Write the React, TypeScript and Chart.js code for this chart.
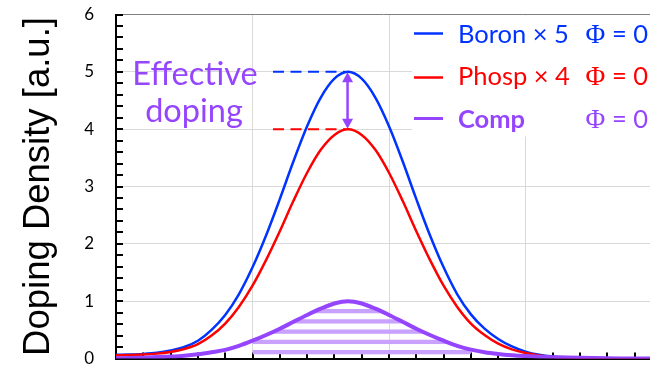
import React, { useEffect, useRef } from 'react';
import { Chart, registerables } from 'chart.js';

Chart.register(...registerables);

// Depth positions (arbitrary units, one minor x tick per unit)
const depthPositions = [
  0, 0.5, 1, 1.5, 2, 2.5, 3, 3.5, 4, 4.5, 5, 5.5, 6, 6.5, 7, 7.5, 8, 8.5, 9, 9.5,
  10, 10.5, 11, 11.5, 12, 12.5, 13, 13.5, 14, 14.5, 15, 15.5, 16, 16.5, 17, 17.5,
  18, 18.5, 19, 19.5, 20,
];

// Boron profile, scaled ×5
const boronValues = [
  0.065, 0.07, 0.08, 0.1, 0.14, 0.2, 0.31, 0.5, 0.76, 1.12, 1.59, 2.15, 2.78, 3.44,
  4.05, 4.55, 4.88, 5.0, 4.88, 4.55, 4.05, 3.44, 2.78, 2.15, 1.59, 1.12, 0.77, 0.52,
  0.34, 0.21, 0.12, 0.065, 0.035, 0.02, 0.012, 0.007, 0.004, 0.002, 0.001, 0, 0,
];

// Phosphorus profile, scaled ×4
const phospValues = [
  0.055, 0.06, 0.068, 0.085, 0.115, 0.165, 0.25, 0.4, 0.61, 0.9, 1.27, 1.72, 2.22,
  2.75, 3.24, 3.64, 3.9, 4.0, 3.9, 3.64, 3.24, 2.75, 2.22, 1.72, 1.27, 0.9, 0.61,
  0.41, 0.26, 0.16, 0.095, 0.052, 0.028, 0.016, 0.01, 0.006, 0.003, 0.002, 0.001, 0, 0,
];

// Compensated (effective) doping
const compValues = [
  0.004, 0.008, 0.015, 0.025, 0.035, 0.05, 0.075, 0.11, 0.15, 0.22, 0.31, 0.41, 0.52,
  0.64, 0.76, 0.87, 0.96, 1.0, 0.96, 0.87, 0.76, 0.64, 0.52, 0.41, 0.31, 0.22, 0.155,
  0.11, 0.08, 0.058, 0.042, 0.03, 0.022, 0.016, 0.011, 0.007, 0.004, 0.002, 0.001, 0, 0,
];

// Depth window of the hatched compensated region
const hatchRange = [5, 13];

const legendLabels = ['Boron × 5', 'Phosp × 4', 'Comp'];
const legendPhi = 'Φ';
const legendPhiValue = '= 0';
const annotationLines = ['Effective', 'doping'];
const axisTitle = 'Doping Density [a.u.]';

const BLUE = '#0033ff';
const RED = '#ff0000';
const PURPLE = '#9645ff';
const X_MAX = 19.56;
const SANS = 'Lato, "Open Sans", sans-serif';

function makeStripes(): CanvasPattern | string {
  const c = document.createElement('canvas');
  c.width = 4;
  c.height = 41;
  const g = c.getContext('2d');
  if (!g) return '#cba3ff';
  g.fillStyle = '#c9a1ff';
  for (let i = 0; i < 4; i++) g.fillRect(0, i * 10.25, 4, 4.3);
  const p = g.createPattern(c, 'repeat');
  if (!p) return '#cba3ff';
  p.setTransform(new DOMMatrix([1, 0, 0, 1, 0, 22]));
  return p;
}

function argMax(arr: number[]) {
  let k = 0;
  arr.forEach((v, i) => {
    if (v > arr[k]) k = i;
  });
  return k;
}

const decorPlugin = {
  id: 'decor',
  beforeDatasetsDraw(chart: any) {
    const { ctx, chartArea, scales } = chart;
    const x = scales.x;
    const y = scales.y;
    ctx.save();
    // opaque legend panel
    ctx.fillStyle = '#ffffff';
    ctx.fillRect(412, chartArea.top + 1, chart.width - 412, 121);
    // inward minor ticks
    ctx.strokeStyle = '#000';
    ctx.lineWidth = 2;
    ctx.beginPath();
    for (let i = 0; i <= 30; i++) {
      const py = Math.round(y.getPixelForValue(i * 0.2));
      ctx.moveTo(chartArea.left, py);
      ctx.lineTo(chartArea.left + 7, py);
    }
    for (let u = 1; u <= 19; u++) {
      const px = Math.round(x.getPixelForValue(u));
      ctx.moveTo(px, chartArea.bottom);
      ctx.lineTo(px, chartArea.bottom - 6);
    }
    ctx.stroke();
    ctx.restore();
  },
  afterDraw(chart: any) {
    const { ctx, scales } = chart;
    const x = scales.x;
    const y = scales.y;
    const bi = argMax(boronValues);
    const pi = argMax(phospValues);
    const peakX = x.getPixelForValue(depthPositions[bi]);
    const yB = y.getPixelForValue(boronValues[bi]);
    const yP = y.getPixelForValue(phospValues[pi]);
    ctx.save();

    // dashed peak markers
    ctx.lineWidth = 2;
    ctx.setLineDash([11, 6.5]);
    ctx.strokeStyle = BLUE;
    ctx.beginPath();
    ctx.moveTo(273, yB);
    ctx.lineTo(peakX - 3, yB);
    ctx.stroke();
    ctx.strokeStyle = RED;
    ctx.beginPath();
    ctx.moveTo(273, yP);
    ctx.lineTo(peakX - 3, yP);
    ctx.stroke();
    ctx.setLineDash([]);

    // double-headed arrow between the peaks
    const ax = peakX - 0.5;
    const head = 10;
    const hw = 5.5;
    ctx.strokeStyle = PURPLE;
    ctx.fillStyle = PURPLE;
    ctx.lineWidth = 2.5;
    ctx.beginPath();
    ctx.moveTo(ax, yB + head - 1);
    ctx.lineTo(ax, yP - head + 1);
    ctx.stroke();
    ctx.beginPath();
    ctx.moveTo(ax, yB + 0.5);
    ctx.lineTo(ax - hw, yB + head + 0.5);
    ctx.lineTo(ax + hw, yB + head + 0.5);
    ctx.closePath();
    ctx.fill();
    ctx.beginPath();
    ctx.moveTo(ax, yP - 0.5);
    ctx.lineTo(ax - hw, yP - head - 0.5);
    ctx.lineTo(ax + hw, yP - head - 0.5);
    ctx.closePath();
    ctx.fill();

    // "Effective doping" note
    ctx.fillStyle = PURPLE;
    ctx.font = `32.5px ${SANS}`;
    ctx.textAlign = 'center';
    ctx.textBaseline = 'alphabetic';
    ctx.fillText(annotationLines[0], 195, 85);
    ctx.fillText(annotationLines[1], 194, 122);

    // legend
    const rows = [
      { color: BLUE, bold: false, base: 42.5, lineY: 33.5, lw: 2.5 },
      { color: RED, bold: false, base: 85, lineY: 77.5, lw: 2.5 },
      { color: PURPLE, bold: true, base: 127.5, lineY: 118.5, lw: 3 },
    ];
    ctx.textAlign = 'left';
    rows.forEach((r, i) => {
      ctx.strokeStyle = r.color;
      ctx.lineWidth = r.lw;
      ctx.beginPath();
      ctx.moveTo(414, r.lineY);
      ctx.lineTo(443, r.lineY);
      ctx.stroke();
      ctx.fillStyle = r.color;
      ctx.font = `${r.bold ? 'bold ' : ''}25.5px ${SANS}`;
      ctx.fillText(legendLabels[i], 458, r.base);
      ctx.font = `27px "Liberation Serif", serif`;
      ctx.fillText(legendPhi, 585.5, r.base);
      ctx.font = `25.5px ${SANS}`;
      ctx.fillText(legendPhiValue, 612, r.base);
    });
    ctx.restore();
  },
};

export default function App() {
  const canvasRef = useRef<HTMLCanvasElement | null>(null);

  useEffect(() => {
    const canvas = canvasRef.current;
    if (!canvas) return;
    const pts = (vals: number[]) => depthPositions.map((d, i) => ({ x: d, y: vals[i] }));
    const hatchPts = depthPositions
      .map((d, i) => ({ x: d, y: compValues[i] }))
      .filter((p) => p.x >= hatchRange[0] && p.x <= hatchRange[1]);

    const line = {
      pointRadius: 0,
      cubicInterpolationMode: 'monotone' as const,
      fill: false,
    };

    const chart = new Chart(canvas, {
      type: 'line',
      data: {
        datasets: [
          { ...line, label: legendLabels[2], data: pts(compValues), borderColor: PURPLE, borderWidth: 4, order: 0 },
          { ...line, label: legendLabels[1], data: pts(phospValues), borderColor: RED, borderWidth: 2.5, order: 1 },
          { ...line, label: legendLabels[0], data: pts(boronValues), borderColor: BLUE, borderWidth: 2.5, order: 2 },
          {
            ...line,
            label: 'hatch',
            data: hatchPts,
            borderWidth: 0,
            borderColor: 'rgba(0,0,0,0)',
            backgroundColor: makeStripes() as any,
            fill: 'origin',
            order: 3,
          },
        ],
      },
      options: {
        animation: false,
        responsive: false,
        events: [],
        layout: { padding: { top: 14.5, right: 0, bottom: 0, left: 0 } },
        plugins: { legend: { display: false }, tooltip: { enabled: false } },
        scales: {
          x: {
            type: 'linear',
            min: 0,
            max: X_MAX,
            ticks: { display: false, stepSize: 5 },
            grid: { color: '#d9d9d9', lineWidth: 1, drawTicks: false },
            border: { display: true, color: '#000', width: 2 },
            afterFit: (s: any) => {
              s.height = 11.5;
              s.paddingLeft = 0;
              s.paddingRight = 0;
            },
          },
          y: {
            type: 'linear',
            min: 0,
            max: 6,
            ticks: { stepSize: 1, color: '#000', padding: 22, font: { family: SANS, size: 17 } },
            grid: {
              drawTicks: false,
              lineWidth: 1,
              color: (c: any) => (c.tick && c.tick.value === 6 ? '#808080' : '#d9d9d9'),
            },
            border: { display: true, color: '#000', width: 2 },
            title: {
              display: true,
              text: axisTitle,
              color: '#000',
              font: { family: '"Liberation Sans", Arial, sans-serif', size: 36.5 },
              padding: { top: 17, bottom: 0 },
            },
            afterFit: (s: any) => {
              s.width = 116;
              s.paddingTop = 0;
              s.paddingBottom = 0;
            },
          },
        },
      },
      plugins: [decorPlugin],
    });
    return () => chart.destroy();
  }, []);

  return (
    <div style={{ position: 'fixed', left: 0, top: 0, width: 650, height: 370, background: '#fff' }}>
      <canvas ref={canvasRef} width={650} height={370} style={{ display: 'block' }} />
    </div>
  );
}
